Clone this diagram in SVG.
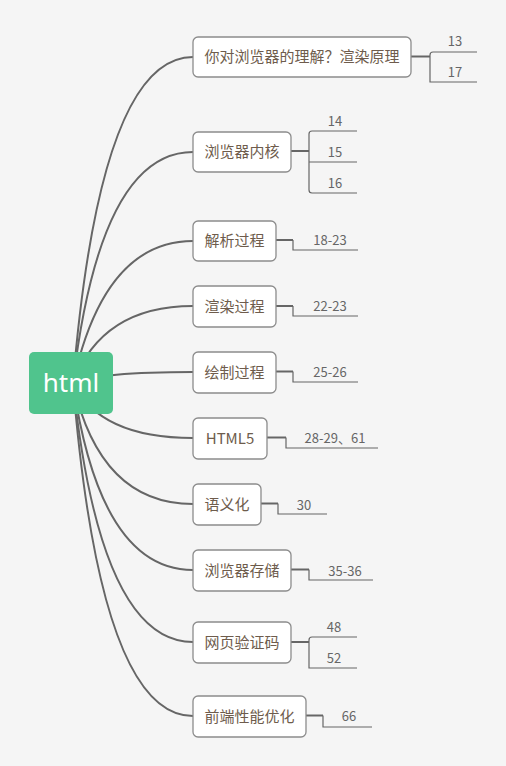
<svg xmlns="http://www.w3.org/2000/svg" width="506" height="766" viewBox="0 0 506 766">
<style>
.bg{fill:#f5f5f5}
.curve{fill:none;stroke:#666;stroke-width:2}
.stub{fill:none;stroke:#666;stroke-width:2}
.br{fill:none;stroke:#666;stroke-width:1.2}
.box{fill:#fff;stroke:#8c8c8c;stroke-width:1.3}
.nt{font-family:"Noto Sans CJK SC","Noto Sans",sans-serif;font-size:15px;fill:#6e5c4c;text-anchor:middle}
.lb{font-family:"Noto Sans CJK SC","Noto Sans",sans-serif;font-size:13px;fill:#666;text-anchor:middle}
.rt{font-family:"Noto Sans","Noto Sans CJK SC",sans-serif;font-size:26px;fill:#fff;text-anchor:middle}
</style>
<rect class="bg" x="0" y="0" width="506" height="766"/>
<g id="connectors">
<path class="curve" d="M73 383 Q100 57 193 57"/>
<path class="curve" d="M73 383 Q100 152 193 152"/>
<path class="curve" d="M73 383 Q104 241 193 241"/>
<path class="curve" d="M73 383 Q102 306 193 306"/>
<path class="curve" d="M73 383 Q100 372 193 372"/>
<path class="curve" d="M73 383 Q100 438 193 438"/>
<path class="curve" d="M73 383 Q100 504 193 504"/>
<path class="curve" d="M73 383 Q100 570 193 570"/>
<path class="curve" d="M73 383 Q100 642 193 642"/>
<path class="curve" d="M73 383 Q100 716 193 716"/>
<path class="stub" d="M411 56.5 H430"/>
<path class="br" d="M477 52 H433 Q430 52 430 55 V82 H477"/>
<path class="stub" d="M291 151 H309"/>
<path class="br" d="M357 131 H312 Q309 131 309 134 V190 Q309 193 312 193 H357 M309 162 H357"/>
<path class="stub" d="M276 240 H293"/>
<path class="br" d="M293 240 V250 H358"/>
<path class="stub" d="M276 306 H293"/>
<path class="br" d="M293 306 V316 H358"/>
<path class="stub" d="M276 371.5 H293"/>
<path class="br" d="M293 371.5 V382 H358"/>
<path class="stub" d="M267 437.5 H286"/>
<path class="br" d="M286 437.5 V448 H378"/>
<path class="stub" d="M261 503.5 H278"/>
<path class="br" d="M278 503.5 V514 H327"/>
<path class="stub" d="M291 569.5 H309"/>
<path class="br" d="M309 569.5 V580 H373"/>
<path class="stub" d="M291 642 H309"/>
<path class="br" d="M357 637 H312 Q309 637 309 640 V668 H357"/>
<path class="stub" d="M306 715.5 H323"/>
<path class="br" d="M323 715.5 V727 H372"/>
</g>
<g id="root">
<rect x="29" y="352" width="84" height="62" rx="5" fill="#50c48d"/>
<text class="rt" x="71" y="392">html</text>
</g>
<g id="n1">
<rect class="box" x="193" y="37" width="218" height="40" rx="5"/>
<text class="nt" x="302" y="62">你对浏览器的理解？渲染原理</text>
<text class="lb" x="455" y="46">13</text>
<text class="lb" x="455" y="77">17</text>
</g>
<g id="n2">
<rect class="box" x="193" y="132" width="98" height="40" rx="5"/>
<text class="nt" x="242" y="157">浏览器内核</text>
<text class="lb" x="335" y="126">14</text>
<text class="lb" x="335" y="157">15</text>
<text class="lb" x="335" y="188">16</text>
</g>
<g id="n3">
<rect class="box" x="193" y="221" width="83" height="40" rx="5"/>
<text class="nt" x="234.5" y="246">解析过程</text>
<text class="lb" x="330" y="245">18-23</text>
</g>
<g id="n4">
<rect class="box" x="193" y="286" width="83" height="41" rx="5"/>
<text class="nt" x="234.5" y="311.5">渲染过程</text>
<text class="lb" x="330" y="311">22-23</text>
</g>
<g id="n5">
<rect class="box" x="193" y="352" width="83" height="41" rx="5"/>
<text class="nt" x="234.5" y="377.5">绘制过程</text>
<text class="lb" x="330" y="377">25-26</text>
</g>
<g id="n6">
<rect class="box" x="193" y="418" width="74" height="41" rx="5"/>
<text class="nt" x="230" y="443.5">HTML5</text>
<text class="lb" x="335" y="443">28-29、61</text>
</g>
<g id="n7">
<rect class="box" x="193" y="484" width="68" height="41" rx="5"/>
<text class="nt" x="227" y="509.5">语义化</text>
<text class="lb" x="304" y="510">30</text>
</g>
<g id="n8">
<rect class="box" x="193" y="550" width="98" height="41" rx="5"/>
<text class="nt" x="242" y="575.5">浏览器存储</text>
<text class="lb" x="345" y="576">35-36</text>
</g>
<g id="n9">
<rect class="box" x="193" y="622" width="98" height="41" rx="5"/>
<text class="nt" x="242" y="647.5">网页验证码</text>
<text class="lb" x="334" y="632">48</text>
<text class="lb" x="334" y="663">52</text>
</g>
<g id="n10">
<rect class="box" x="193" y="696" width="113" height="41" rx="5"/>
<text class="nt" x="249.5" y="721.5">前端性能优化</text>
<text class="lb" x="349" y="721">66</text>
</g>
</svg>
